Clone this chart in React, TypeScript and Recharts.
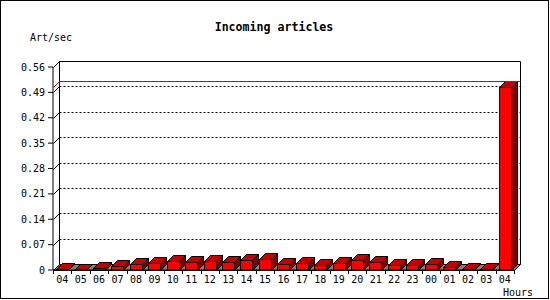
import { BarChart, Bar, XAxis, YAxis, CartesianGrid, ReferenceArea, ReferenceLine } from "recharts";

// hourly slots, oldest first (the first and last are both "04")
const hours = ["04", "05", "06", "07", "08", "09", "10", "11", "12", "13", "14", "15", "16", "17", "18", "19", "20", "21", "22", "23", "00", "01", "02", "03", "04"];
const artPerSec = [0.002, 0.001, 0.005, 0.01, 0.016, 0.019, 0.024, 0.022, 0.024, 0.022, 0.027, 0.029, 0.016, 0.019, 0.014, 0.019, 0.028, 0.022, 0.014, 0.014, 0.016, 0.007, 0.004, 0.004, 0.504];
const yTicks = [0, 0.07, 0.14, 0.21, 0.28, 0.35, 0.42, 0.49, 0.56];

const data = hours.map((h, i) => ({ slot: i, hour: h, value: artPerSec[i] }));
const maxValue = Math.max(...artPerSec);

const W = 550;
const H = 300;
const MARGIN = { top: 67, right: 36, bottom: 10, left: 0 };
const Y_AXIS_W = 53;
const PLOT_W = W - MARGIN.left - MARGIN.right - Y_AXIS_W;
const BAND = PLOT_W / hours.length;
const D = 6; // 3d depth
const FONT = "'DejaVu Sans Mono', 'Liberation Mono', monospace";

const px = (v: number) => Math.round(v) + 0.5;

function Bar3D(props: any) {
  const { x, y, width, height } = props;
  if (x == null || y == null) return null;
  const l = px(x);
  const r = px(x + width);
  const t = px(y);
  const b = px(y + height);
  return (
    <g stroke="#000" strokeWidth={1}>
      <polygon points={`${l},${t} ${l + D},${t - D} ${r + D},${t - D} ${r},${t}`} fill="#c80000" />
      <polygon points={`${r},${t} ${r + D},${t - D} ${r + D},${b - D} ${r},${b}`} fill="#800000" />
      <rect x={l} y={t} width={r - l} height={Math.max(b - t, 0)} fill="#ff0000" />
    </g>
  );
}

// back wall + floor, sized from the plot rect the library gives
function Box3D(props: any) {
  const { x, y, width, height } = props;
  if (x == null) return null;
  const l = px(x);
  const r = px(x + width);
  const t = px(y);
  const b = px(y + height);
  return (
    <g stroke="#000" strokeWidth={1} fill="none">
      <polygon points={`${l},${b} ${r},${b} ${r + D},${b - D} ${l + D},${b - D}`} fill="#808080" />
      <line x1={l} y1={t} x2={l + D} y2={t - D} />
      <line x1={l + D} y1={t - D} x2={r + D} y2={t - D} />
      <line x1={l + D} y1={t - D} x2={l + D} y2={b - D} />
      <line x1={r + D} y1={t - D} x2={r + D} y2={b - D} />
    </g>
  );
}

function GridLine(props: any) {
  const { x1, y1, x2, y, height, index } = props;
  const top = y;
  const bottom = y + height;
  if (Math.abs(y1 - top) < 1 || Math.abs(y1 - bottom) < 1) return <g key={`g${index}`} />;
  const yy = px(y1);
  return (
    <g key={`g${index}`}>
      <line x1={px(x1)} y1={yy} x2={px(x1) + D} y2={yy - D} stroke="#000" />
      <line x1={px(x1) + D} y1={yy - D} x2={px(x2) + D} y2={yy - D} stroke="#000" strokeDasharray="2 2" />
    </g>
  );
}

function MaxLine(props: any) {
  const { x1, y1, x2 } = props;
  if (x1 == null) return null;
  const yy = px(y1);
  return (
    <g stroke="#e00000" strokeWidth={1}>
      <line x1={px(x1)} y1={yy} x2={px(x1) + D} y2={yy - D} />
      <line x1={px(x1) + D} y1={yy - D} x2={px(x2) + D} y2={yy - D} />
    </g>
  );
}

function HourTick(props: any) {
  const { x, y, payload, index } = props;
  const left = px(x - BAND / 2);
  const right = px(x + BAND / 2);
  const axisY = y - 6;
  return (
    <g>
      <line x1={left} y1={axisY} x2={left} y2={axisY + 4} stroke="#000" />
      {index === hours.length - 1 && <line x1={right} y1={axisY} x2={right} y2={axisY + 4} stroke="#000" />}
      <text x={x} y={axisY + 13} textAnchor="middle" fontFamily={FONT} fontSize={10} fill="#000">
        {hours[payload.value] ?? ""}
      </text>
    </g>
  );
}

export default function App() {
  return (
    <div style={{ position: "absolute", left: 0, top: 0, width: W, height: H, background: "#fff" }}>
      <BarChart width={W} height={H} data={data} margin={MARGIN} barSize={12}>
        <CartesianGrid vertical={false} horizontal={GridLine as any} />
        <ReferenceArea y1={0} y2={0.56} shape={Box3D as any} ifOverflow="visible" />
        <ReferenceLine y={maxValue} shape={MaxLine as any} ifOverflow="visible" />
        <XAxis
          dataKey="slot"
          type="category"
          interval={0}
          height={20}
          tickLine={false}
          tickSize={4}
          tickMargin={2}
          axisLine={{ stroke: "#000" }}
          tick={HourTick as any}
        />
        <YAxis
          width={Y_AXIS_W}
          domain={[0, 0.56]}
          ticks={yTicks}
          interval={0}
          tickSize={5}
          tickMargin={3}
          axisLine={{ stroke: "#000" }}
          tickLine={{ stroke: "#000" }}
          tick={{ fill: "#000", fontSize: 10, fontFamily: FONT }}
          tickFormatter={(v: number) => (v === 0 ? "0" : v.toFixed(2))}
        />
        <Bar dataKey="value" shape={Bar3D as any} isAnimationActive={false} />
      </BarChart>
      <svg width={W} height={H} style={{ position: "absolute", left: 0, top: 0, pointerEvents: "none" }}>
        <rect x={0.5} y={0.5} width={548} height={298} fill="none" stroke="#000" />
        <text x={274} y={31} textAnchor="middle" fontFamily={FONT} fontWeight="bold" fontSize={11.6} fill="#000">
          Incoming articles
        </text>
        <text x={30} y={41} fontFamily={FONT} fontSize={10} fill="#000">
          Art/sec
        </text>
        <text x={533} y={296} textAnchor="end" fontFamily={FONT} fontSize={10} fill="#000">
          Hours
        </text>
      </svg>
    </div>
  );
}
